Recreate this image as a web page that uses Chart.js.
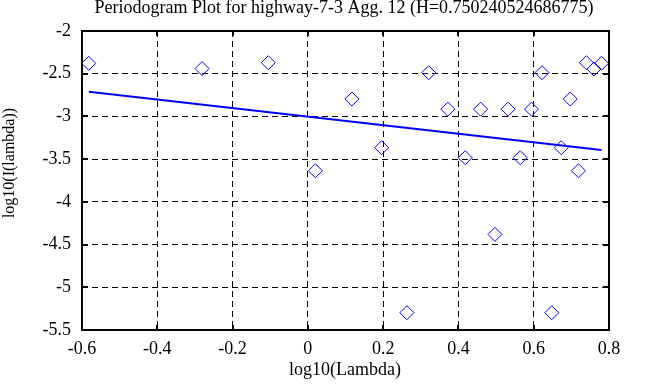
<!DOCTYPE html>
<html>
<head>
<meta charset="utf-8">
<script src="https://cdn.jsdelivr.net/npm/chart.js@4/dist/chart.umd.min.js"></script>
<style>
  html, body { margin: 0; padding: 0; background: #fff; }
  #wrap { width: 663px; height: 387px; }
</style>
</head>
<body>
<div id="wrap"><canvas id="periodogramChart"></canvas></div>
<script>
// periodogram points
const lambdaLog = [-0.582, -0.281, -0.105, 0.020, 0.117, 0.196, 0.263, 0.321, 0.372, 0.418,
                   0.459, 0.497, 0.532, 0.564, 0.594, 0.622, 0.648, 0.673, 0.697, 0.719,
                   0.740, 0.760, 0.780];
const periodLog = [-2.378, -2.440, -2.371, -3.636, -2.796, -3.366, -5.298, -2.488, -2.915, -3.483,
                   -2.915, -4.381, -2.915, -3.483, -2.915, -2.488, -5.298, -3.366, -2.796, -3.636,
                   -2.371, -2.445, -2.378];
// least squares fit line ends
const fitX = [-0.582, 0.780];
const fitY = [-2.710, -3.392];

const xTicks = [-0.6, -0.4, -0.2, 0, 0.2, 0.4, 0.6, 0.8];
const yTicks = [-5.5, -5, -4.5, -4, -3.5, -3, -2.5, -2];

const titleText = 'Periodogram Plot for highway-7-3 Agg. 12 (H=0.750240524686775)';
const xTitle = 'log10(Lambda)';
const yTitle = 'log10(I(lambda))';

Chart.defaults.font.family = '"Liberation Serif", "Times New Roman", serif';
Chart.defaults.font.size = 18;
Chart.defaults.color = '#000';

// frame, inward tick marks and titles
const framePlugin = {
    id: 'frame',
    afterDraw(chart) {
        const ctx = chart.ctx;
        const area = chart.chartArea;
        const xs = chart.scales.x;
        const ys = chart.scales.y;
        ctx.save();
        ctx.strokeStyle = '#000';
        ctx.lineWidth = 2;
        ctx.beginPath();
        xTicks.slice(1, -1).forEach(v => {
            const px = Math.round(xs.getPixelForValue(v));
            ctx.moveTo(px, area.top); ctx.lineTo(px, area.top + 5);
            ctx.moveTo(px, area.bottom); ctx.lineTo(px, area.bottom - 5);
        });
        yTicks.slice(1, -1).forEach(v => {
            const py = Math.round(ys.getPixelForValue(v));
            ctx.moveTo(area.left, py); ctx.lineTo(area.left + 6, py);
            ctx.moveTo(area.right, py); ctx.lineTo(area.right - 6, py);
        });
        ctx.stroke();
        ctx.strokeRect(area.left, area.top, area.right - area.left, area.bottom - area.top);

        ctx.fillStyle = '#000';
        ctx.textAlign = 'center';
        ctx.textBaseline = 'alphabetic';
        ctx.font = '18px "Liberation Serif", serif';
        ctx.fillText(titleText, 344, 13);
        ctx.fillText(xTitle, 345, 375);

        ctx.translate(14, 163);
        ctx.rotate(-Math.PI / 2);
        ctx.font = '16px "Liberation Serif", serif';
        ctx.fillText(yTitle, 0, 0);
        ctx.restore();
    }
};

const ctx = document.getElementById('periodogramChart').getContext('2d');
new Chart(ctx, {
    type: 'scatter',
    data: {
        datasets: [{
            type: 'line',
            data: fitX.map((x, i) => ({x: x, y: fitY[i]})),
            borderColor: '#0000ff',
            borderWidth: 2,
            pointRadius: 0,
            fill: false
        }, {
            data: lambdaLog.map((x, i) => ({x: x, y: periodLog[i]})),
            pointStyle: 'rectRot',
            pointRadius: 7,
            pointBorderWidth: 1,
            pointBorderColor: '#0000ff',
            pointBackgroundColor: 'rgba(0,0,0,0)',
            clip: false
        }]
    },
    options: {
        responsive: true,
        maintainAspectRatio: false,
        animation: false,
        layout: { padding: { top: 31, right: 54, left: 0, bottom: 0 } },
        plugins: {
            legend: { display: false },
            tooltip: { enabled: false }
        },
        scales: {
            x: {
                type: 'linear',
                min: -0.6,
                max: 0.8,
                afterBuildTicks: scale => { scale.ticks = xTicks.map(v => ({value: v})); },
                afterFit: scale => { scale.height = 57; },
                ticks: { padding: 8, maxRotation: 0, autoSkip: false, callback: v => String(v) },
                grid: { color: '#000', lineWidth: 1, drawTicks: false },
                border: { display: false, dash: [6, 4] }
            },
            y: {
                type: 'linear',
                min: -5.5,
                max: -2,
                afterBuildTicks: scale => { scale.ticks = yTicks.map(v => ({value: v})); },
                afterFit: scale => { scale.width = 82; },
                ticks: { padding: 11, autoSkip: false, callback: v => String(v) },
                grid: { color: '#000', lineWidth: 1, drawTicks: false },
                border: { display: false, dash: [6, 4] }
            }
        }
    },
    plugins: [framePlugin]
});
</script>
</body>
</html>
